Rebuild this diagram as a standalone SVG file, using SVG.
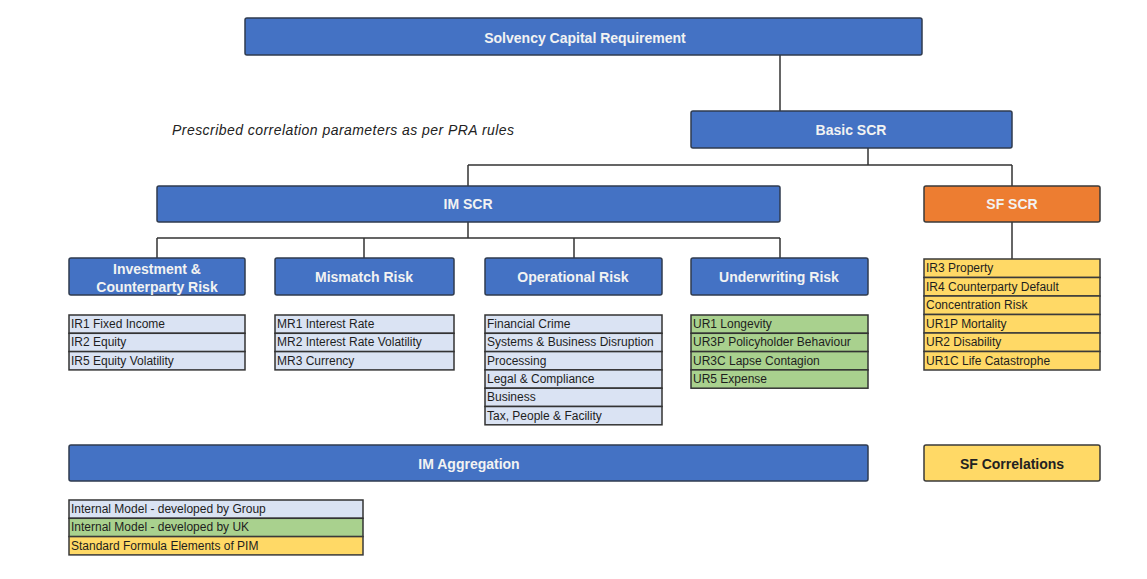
<svg xmlns="http://www.w3.org/2000/svg" width="1147" height="579" viewBox="0 0 1147 579">
<style>
.hb{fill:#4472C4;stroke:#2F3B4F;stroke-width:1.5}
.ob{fill:#ED7D31;stroke:#3A3A3A;stroke-width:1.5}
.yb{fill:#FFD966;stroke:#3A3A3A;stroke-width:1.5}
.lb{fill:#DAE3F3;stroke:#333;stroke-width:1.5}
.gb{fill:#A9D18E;stroke:#333;stroke-width:1.5}
.ht{font-family:"Liberation Sans",Arial,sans-serif;font-size:14px;font-weight:bold;fill:#F2F2F2;text-anchor:middle;dominant-baseline:central}
.dt{font-family:"Liberation Sans",Arial,sans-serif;font-size:14px;font-weight:bold;fill:#222;text-anchor:middle;dominant-baseline:central}
.it{font-family:"Liberation Sans",Arial,sans-serif;font-size:12px;fill:#1E1E1E;dominant-baseline:central}
.note{font-family:"Liberation Sans",Arial,sans-serif;font-size:14px;letter-spacing:0.45px;font-style:italic;fill:#222}
.c{fill:none;stroke:#333;stroke-width:1.5}
</style>
<rect width="1147" height="579" fill="#FFFFFF"/>
<g id="connectors">
<path class="c" d="M780 55V111"/>
<path class="c" d="M868 148V165M468 165H1012M468 165V186M1012 165V186"/>
<path class="c" d="M468 222V238M157 238H780M157 238V258M364 238V258M574 238V258M780 238V258"/>
<path class="c" d="M1012 222V259"/>
</g>
<g id="scr"><rect class="hb" x="245" y="18" width="677" height="37" rx="2"/><text class="ht" x="585" y="38">Solvency Capital Requirement</text></g>
<text class="note" x="172" y="135">Prescribed correlation parameters as per PRA rules</text>
<g id="basic-scr"><rect class="hb" x="691" y="111" width="321" height="37" rx="2"/><text class="ht" x="851" y="130">Basic SCR</text></g>
<g id="im-scr"><rect class="hb" x="157" y="186" width="623" height="36" rx="2"/><text class="ht" x="468" y="204">IM SCR</text></g>
<g id="sf-scr"><rect class="ob" x="924" y="186" width="176" height="36" rx="2"/><text class="ht" x="1012" y="204">SF SCR</text></g>
<g id="investment"><rect class="hb" x="69" y="258" width="176" height="37" rx="2"/><text class="ht" x="157" y="269">Investment &amp;</text><text class="ht" x="157" y="287">Counterparty Risk</text></g>
<g id="mismatch"><rect class="hb" x="275" y="258" width="179" height="37" rx="2"/><text class="ht" x="364" y="277">Mismatch Risk</text></g>
<g id="operational"><rect class="hb" x="485" y="258" width="177" height="37" rx="2"/><text class="ht" x="573" y="277">Operational Risk</text></g>
<g id="underwriting"><rect class="hb" x="691" y="258" width="177" height="37" rx="2"/><text class="ht" x="779" y="277">Underwriting Risk</text></g>
<g id="ir-list">
<rect class="lb" x="69" y="315" width="176" height="18.3"/><rect class="lb" x="69" y="333.3" width="176" height="18.3"/><rect class="lb" x="69" y="351.6" width="176" height="18.3"/>
<text class="it" x="71" y="324">IR1 Fixed Income</text><text class="it" x="71" y="342">IR2 Equity</text><text class="it" x="71" y="361">IR5 Equity Volatility</text>
</g>
<g id="mr-list">
<rect class="lb" x="275" y="315" width="179" height="18.3"/><rect class="lb" x="275" y="333.3" width="179" height="18.3"/><rect class="lb" x="275" y="351.6" width="179" height="18.3"/>
<text class="it" x="277" y="324">MR1 Interest Rate</text><text class="it" x="277" y="342">MR2 Interest Rate Volatility</text><text class="it" x="277" y="361">MR3 Currency</text>
</g>
<g id="op-list">
<rect class="lb" x="485" y="315" width="177" height="18.3"/><rect class="lb" x="485" y="333.3" width="177" height="18.3"/><rect class="lb" x="485" y="351.6" width="177" height="18.3"/><rect class="lb" x="485" y="369.9" width="177" height="18.3"/><rect class="lb" x="485" y="388.2" width="177" height="18.3"/><rect class="lb" x="485" y="406.5" width="177" height="18.3"/>
<text class="it" x="487" y="324">Financial Crime</text><text class="it" x="487" y="342">Systems &amp; Business Disruption</text><text class="it" x="487" y="361">Processing</text><text class="it" x="487" y="379">Legal &amp; Compliance</text><text class="it" x="487" y="397">Business</text><text class="it" x="487" y="416">Tax, People &amp; Facility</text>
</g>
<g id="ur-list">
<rect class="gb" x="691" y="315" width="177" height="18.3"/><rect class="gb" x="691" y="333.3" width="177" height="18.3"/><rect class="gb" x="691" y="351.6" width="177" height="18.3"/><rect class="gb" x="691" y="369.9" width="177" height="18.3"/>
<text class="it" x="693" y="324">UR1 Longevity</text><text class="it" x="693" y="342">UR3P Policyholder Behaviour</text><text class="it" x="693" y="361">UR3C Lapse Contagion</text><text class="it" x="693" y="379">UR5 Expense</text>
</g>
<g id="sf-list">
<rect class="yb" x="924" y="259" width="176" height="18.5"/><rect class="yb" x="924" y="277.5" width="176" height="18.5"/><rect class="yb" x="924" y="296" width="176" height="18.5"/><rect class="yb" x="924" y="314.5" width="176" height="18.5"/><rect class="yb" x="924" y="333" width="176" height="18.5"/><rect class="yb" x="924" y="351.5" width="176" height="18.5"/>
<text class="it" x="926" y="268">IR3 Property</text><text class="it" x="926" y="287">IR4 Counterparty Default</text><text class="it" x="926" y="305">Concentration Risk</text><text class="it" x="926" y="324">UR1P Mortality</text><text class="it" x="926" y="342">UR2 Disability</text><text class="it" x="926" y="361">UR1C Life Catastrophe</text>
</g>
<g id="im-aggregation"><rect class="hb" x="69" y="445" width="799" height="36" rx="2"/><text class="ht" x="469" y="464">IM Aggregation</text></g>
<g id="sf-correlations"><rect class="yb" x="924" y="445" width="176" height="36" rx="2"/><text class="dt" x="1012" y="464">SF Correlations</text></g>
<g id="legend">
<rect class="lb" x="69" y="500" width="294" height="18.3"/><rect class="gb" x="69" y="518.3" width="294" height="18.3"/><rect class="yb" x="69" y="536.6" width="294" height="18.3"/>
<text class="it" x="71" y="509">Internal Model - developed by Group</text><text class="it" x="71" y="527">Internal Model - developed by UK</text><text class="it" x="71" y="546">Standard Formula Elements of PIM</text>
</g>
</svg>
